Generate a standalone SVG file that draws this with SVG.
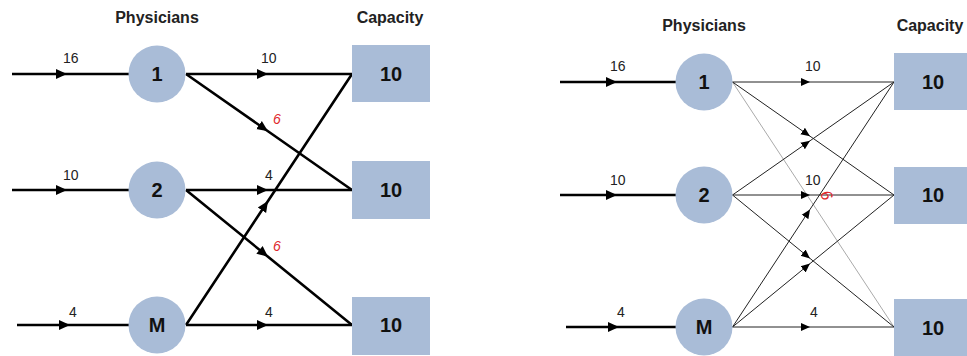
<svg xmlns="http://www.w3.org/2000/svg" width="967" height="356" viewBox="0 0 967 356">
<style>
.node{fill:#a9bcd7;stroke:none}
.title{font-family:"Liberation Sans",Arial,sans-serif;font-size:16px;font-weight:bold;fill:#222;text-anchor:middle}
.nl{font-family:"Liberation Sans",Arial,sans-serif;font-size:20px;font-weight:bold;fill:#111;text-anchor:middle}
.el{font-family:"Liberation Sans",Arial,sans-serif;font-size:14px;fill:#222}
.red{font-family:"Liberation Sans",Arial,sans-serif;font-size:14px;font-style:italic;fill:#e0282c}
.thick{fill:none;stroke:#000;stroke-width:2.6;marker-mid:url(#ab)}
.thin{fill:none;stroke:#222;stroke-width:1;marker-mid:url(#as)}
.grey{fill:none;stroke:#aaa;stroke-width:1}
</style>
<defs>
<marker id="ab" markerUnits="userSpaceOnUse" markerWidth="12" markerHeight="12" viewBox="0 0 12 12" refX="11" refY="6" orient="auto">
<path d="M0 1 L11 6 L0 11 Z" fill="#000"/>
</marker>
<marker id="as" markerUnits="userSpaceOnUse" markerWidth="10" markerHeight="10" viewBox="0 0 10 10" refX="9" refY="5" orient="auto">
<path d="M0 1 L9 5 L0 9 Z" fill="#000"/>
</marker>
</defs>

<text class="title" x="157" y="23">Physicians</text>
<text class="title" x="390" y="23">Capacity</text>
<text class="title" x="704" y="31">Physicians</text>
<text class="title" x="930" y="31">Capacity</text>

<g id="connectors">
<path class="thick" d="M12 74 L67 74 L129 74"/>
<path class="thick" d="M12 190 L67 190 L129 190"/>
<path class="thick" d="M17 325 L70 325 L129 325"/>
<path class="thick" d="M186 74 L268 74 L352 74"/>
<path class="thick" d="M186 74 L268 131.3 L352 190"/>
<path class="thick" d="M186 190 L268 190 L352 190"/>
<path class="thick" d="M186 190 L268 256.7 L352 325"/>
<path class="thick" d="M186 325 L268 201 L352 74"/>
<path class="thick" d="M186 325 L268 325 L352 325"/>

<path class="thick" d="M560 82 L617 82 L676 82"/>
<path class="thick" d="M560 195 L617 195 L676 195"/>
<path class="thick" d="M566 327 L619 327 L676 327"/>
<path class="grey" d="M732.5 82 L894 327"/>
<path class="thin" d="M732.5 82 L810 82 L894 82"/>
<path class="thin" d="M732.5 82 L810 136.2 L894 195"/>
<path class="thin" d="M732.5 195 L810 140.8 L894 82"/>
<path class="thin" d="M732.5 195 L810 195 L894 195"/>
<path class="thin" d="M732.5 195 L810 258.4 L894 327"/>
<path class="thin" d="M732.5 327 L810 209.4 L894 82"/>
<path class="thin" d="M732.5 327 L810 263.6 L894 195"/>
<path class="thin" d="M732.5 327 L810 327 L894 327"/>
</g>

<g id="labels">
<text class="el" x="63" y="63">16</text>
<text class="el" x="63" y="180">10</text>
<text class="el" x="69" y="317">4</text>
<text class="el" x="261" y="63">10</text>
<text class="el" x="265" y="180">4</text>
<text class="el" x="265" y="317">4</text>
<text class="red" x="273" y="124">6</text>
<text class="red" x="273" y="251">6</text>
<text class="el" x="610" y="71">16</text>
<text class="el" x="610" y="185">10</text>
<text class="el" x="617" y="317">4</text>
<text class="el" x="805" y="71">10</text>
<text class="el" x="805" y="185">10</text>
<text class="el" x="810" y="317">4</text>
<text class="red" x="0" y="0" text-anchor="middle" style="font-size:16px" transform="translate(827 195) rotate(65) translate(0 6)">6</text>
</g>

<g id="L-p1"><circle class="node" cx="157" cy="74" r="28.5"/><text class="nl" x="157" y="81">1</text></g>
<g id="L-p2"><circle class="node" cx="157" cy="190" r="28.5"/><text class="nl" x="157" y="197">2</text></g>
<g id="L-pM"><circle class="node" cx="157" cy="325" r="28.5"/><text class="nl" x="157" y="332">M</text></g>
<g id="L-c1"><rect class="node" x="352" y="45" width="78" height="57"/><text class="nl" x="391" y="81">10</text></g>
<g id="L-c2"><rect class="node" x="352" y="161" width="78" height="58"/><text class="nl" x="391" y="197">10</text></g>
<g id="L-c3"><rect class="node" x="352" y="297" width="78" height="58"/><text class="nl" x="391" y="332">10</text></g>

<g id="R-p1"><circle class="node" cx="704" cy="82" r="28.5"/><text class="nl" x="704" y="89">1</text></g>
<g id="R-p2"><circle class="node" cx="704" cy="195" r="28.5"/><text class="nl" x="704" y="202">2</text></g>
<g id="R-pM"><circle class="node" cx="704" cy="327" r="28.5"/><text class="nl" x="704" y="334">M</text></g>
<g id="R-c1"><rect class="node" x="894" y="53" width="78" height="57"/><text class="nl" x="933" y="89">10</text></g>
<g id="R-c2"><rect class="node" x="894" y="167" width="78" height="57"/><text class="nl" x="933" y="202">10</text></g>
<g id="R-c3"><rect class="node" x="894" y="299" width="78" height="57"/><text class="nl" x="933" y="335">10</text></g>
</svg>
